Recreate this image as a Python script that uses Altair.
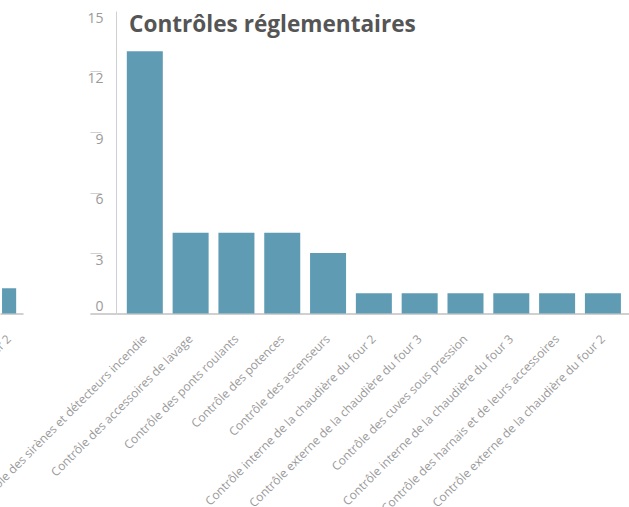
import altair as alt
import pandas as pd

categories = [
    "Contrôle des sirènes et détecteurs incendie",
    "Contrôle des accessoires de lavage",
    "Contrôle des ponts roulants",
    "Contrôle des potences",
    "Contrôle des ascenseurs",
    "Contrôle interne de la chaudière du four 2",
    "Contrôle externe de la chaudière du four 3",
    "Contrôle des cuves sous pression",
    "Contrôle interne de la chaudière du four 3",
    "Contrôle des harnais et de leurs accessoires",
    "Contrôle externe de la chaudière du four 2",
]
values = [13, 4, 4, 4, 3, 1, 1, 1, 1, 1, 1]

# partially visible bar of the neighbouring chart on the far left
left_categories = ["Contrôle de la chaudière du four 2"]
left_values = [1.25]

y_ticks = [0, 3, 6, 9, 12, 15]

FONT = "Open Sans"
BAR = "#5f9cb4"
LABEL = "#9a9a9a"
LINE = "#d0d0d0"

main_df = pd.DataFrame({"cat": categories, "val": values})
left_df = pd.DataFrame({"cat": left_categories, "val": left_values})

y_scale = alt.Scale(domain=[0, 15], nice=False)

y_enc = alt.Y(
    "val:Q",
    scale=y_scale,
    axis=alt.Axis(
        orient="left",
        values=y_ticks,
        title=None,
        ticks=False,
        tickSize=0,
        labels=True,
        labelPadding=13,
        labelFont=FONT,
        labelFontSize=14,
        labelColor=LABEL,
        labelBaseline={"condition": {"test": "datum.value <= 0", "value": "bottom"}, "value": "top"},
        domain=True,
        domainColor=LINE,
        domainWidth=1,
        grid=True,
        gridColor=LINE,
        gridWidth=1,
        gridDash=[11, 3000],
        gridOpacity={"condition": {"test": "datum.value >= 15", "value": 0}, "value": 1},
    ),
)

x_axis_common = dict(
    title=None,
    labelAngle=-45,
    labelAlign="right",
    labelBaseline="middle",
    labelPadding=23,
    ticks=False,
    tickSize=0,
    labels=True,
    labelFont=FONT,
    labelFontSize=12,
    labelColor=LABEL,
    labelLimit=1000,
    labelOverlap=False,
    domain=True,
    domainColor=LINE,
    domainWidth=2,
    grid=False,
)

no_frame = alt.ViewBackground(stroke=None, strokeWidth=0)

main = alt.Chart(main_df).mark_bar(color=BAR).encode(
    x=alt.X(
        "cat:N",
        sort=None,
        scale=alt.Scale(range=[-26, 513], paddingInner=0.214, paddingOuter=0.49, align=0.82),
        axis=alt.Axis(orient="bottom", **x_axis_common),
    ),
    y=y_enc,
)

left = alt.Chart(left_df).mark_bar(color=BAR).encode(
    x=alt.X(
        "cat:N",
        sort=None,
        scale=alt.Scale(range=[-116, -93], paddingInner=0.3, paddingOuter=0.22, align=0.23),
        axis=alt.Axis(orient="bottom", **x_axis_common),
    ),
    y=alt.Y("val:Q", scale=y_scale, axis=None),
)

chart = (
    alt.layer(main, left)
    .resolve_scale(x="independent")
    .resolve_axis(x="independent", y="independent")
    .properties(
        width=513,
        height=302.5,
        view=no_frame,
        autosize=alt.AutoSizeParams(type="none"),
        padding={"left": 116, "top": 11, "right": 0, "bottom": 193.5},
        title=alt.Title(
            "Contrôles réglementaires",
            anchor="start",
            frame="group",
            font=FONT,
            fontSize=22.6,
            fontWeight="bold",
            color="#555555",
            baseline="alphabetic",
            dx=13,
            offset=-44,
        ),
    )
    .configure_view(stroke=None, strokeWidth=0)
    .configure_axis(grid=False, domain=False, ticks=False)
    .configure(background="white")
)

chart.save("out.html", embed_options={"renderer": "svg", "actions": False})
